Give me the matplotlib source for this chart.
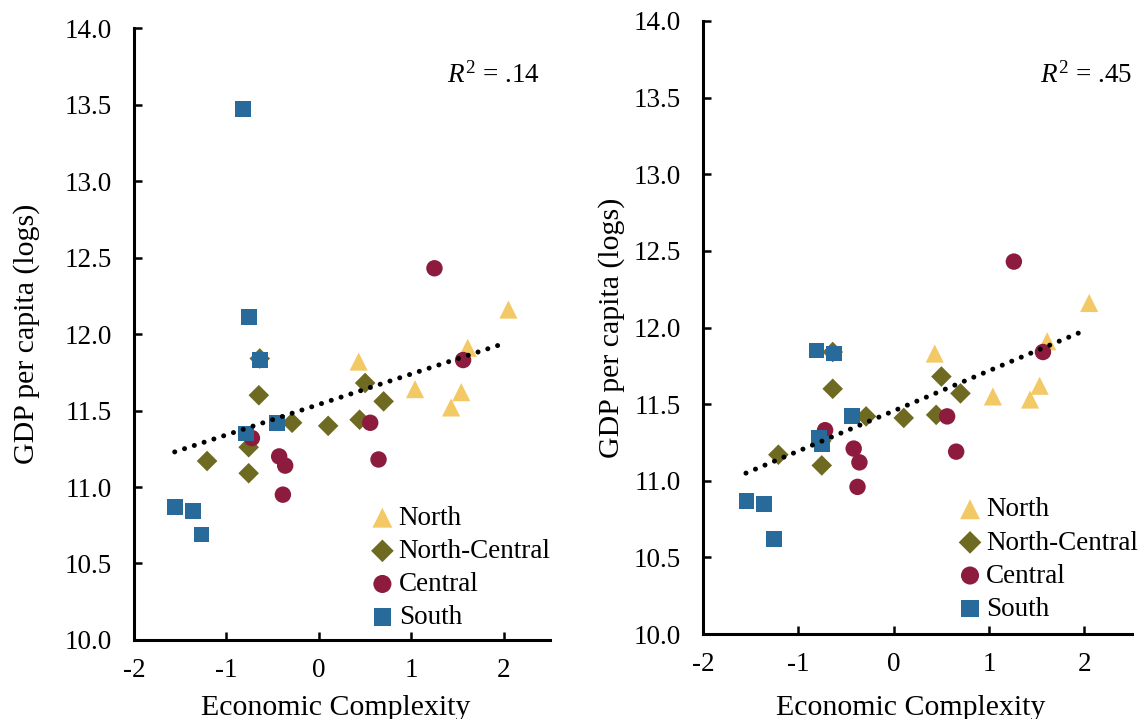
import matplotlib
matplotlib.use("Agg")
import matplotlib.pyplot as plt
from matplotlib.ticker import FormatStrFormatter
import numpy as np

plt.rcParams['font.family'] = ['Liberation Serif', 'DejaVu Serif']
plt.rcParams['mathtext.fontset'] = 'custom'
plt.rcParams['mathtext.rm'] = 'Liberation Serif'
plt.rcParams['mathtext.it'] = 'Liberation Serif:italic'
plt.rcParams['axes.unicode_minus'] = False

# --- datos (panel izquierdo) ---
north_x = [0.43, 1.04, 1.43, 1.54, 1.61, 2.05]
north_y = [11.82, 11.64, 11.52, 11.62, 11.91, 12.16]
ncentral_x = [-1.21, -0.76, -0.76, -0.65, -0.64, -0.29, 0.10, 0.44, 0.50, 0.70]
ncentral_y = [11.17, 11.26, 11.09, 11.60, 11.84, 11.42, 11.40, 11.44, 11.68, 11.56]
central_x = [-0.725, -0.43, -0.365, -0.39, 0.555, 0.645, 1.25, 1.56]
central_y = [11.32, 11.20, 11.14, 10.95, 11.42, 11.18, 12.43, 11.83]
south_x = [-1.555, -1.36, -1.27, -0.82, -0.79, -0.76, -0.635, -0.455]
south_y = [10.87, 10.845, 10.69, 13.47, 11.35, 12.11, 11.83, 11.42]

# --- datos (panel derecho) ---
north_x2 = [0.43, 1.04, 1.43, 1.53, 1.61, 2.05]
north_y2 = [11.83, 11.55, 11.53, 11.62, 11.91, 12.16]
ncentral_x2 = [-1.21, -0.76, -0.755, -0.64, -0.64, -0.29, 0.105, 0.445, 0.50, 0.70]
ncentral_y2 = [11.17, 11.26, 11.10, 11.60, 11.84, 11.42, 11.41, 11.43, 11.68, 11.57]
central_x2 = [-0.72, -0.42, -0.36, -0.38, 0.56, 0.655, 1.26, 1.565]
central_y2 = [11.33, 11.21, 11.12, 10.96, 11.42, 11.19, 12.43, 11.84]
south_x2 = [-1.545, -1.36, -1.26, -0.81, -0.78, -0.75, -0.63, -0.44]
south_y2 = [10.87, 10.85, 10.62, 11.85, 11.28, 11.24, 11.83, 11.42]

# lineas de tendencia: (intercepto, pendiente, x inicial, x final)
trend_left = (11.54, 0.199, -1.56, 1.955)
trend_right = (11.456, 0.262, -1.55, 1.96)
r2_labels = ['.14', '.45']

labels = ['North', 'North-Central', 'Central', 'South']
colors = ['#F2C964', '#6E6A22', '#8D1B3D', '#286B9B']
markers = ['^', 'D', 'o', 's']
sizes = [170, 110, 140, 130]

fig = plt.figure(figsize=(11.38, 7.19), dpi=100)
ax1 = fig.add_axes([0.1178, 0.1099, 0.3655, 0.851])
ax2 = fig.add_axes([0.6178, 0.1182, 0.377, 0.8526])

paneles = [
    (ax1, [(north_x, north_y), (ncentral_x, ncentral_y), (central_x, central_y), (south_x, south_y)],
     trend_left, r2_labels[0], (0.752, 0.923), (0.571, 0.016), -0.226, -0.09),
    (ax2, [(north_x2, north_y2), (ncentral_x2, ncentral_y2), (central_x2, central_y2), (south_x2, south_y2)],
     trend_right, r2_labels[1], (0.786, 0.912), (0.597, 0.02), -0.182, -0.099),
]

for ax, series, trend, r2, r2pos, legpos, ylab_x, xlab_y in paneles:
    for (xs, ys), lab, c, m, s in zip(series, labels, colors, markers, sizes):
        ax.scatter(xs, ys, s=s, marker=m, color=c, edgecolors='none', label=lab, zorder=2)

    b0, b1, xa, xb = trend
    xt = np.array([xa, xb])
    ax.plot(xt, b0 + b1 * xt, color='black', linewidth=3.6,
            linestyle=(0, (0.01, 2.05)), dash_capstyle='round', zorder=3)

    ax.set_xlim(-2, 2.5)
    ax.set_ylim(10, 14)
    ax.set_xticks([-2, -1, 0, 1, 2])
    ax.set_yticks(np.arange(10, 14.01, 0.5))
    ax.yaxis.set_major_formatter(FormatStrFormatter('%.1f'))

    for lado in ['top', 'right']:
        ax.spines[lado].set_visible(False)
    for lado in ['left', 'bottom']:
        ax.spines[lado].set_linewidth(2.2)

    ax.tick_params(axis='both', direction='in', length=6, width=1.8, labelsize=19.5)
    ax.tick_params(axis='x', pad=13)
    ax.tick_params(axis='y', pad=16)

    ax.set_xlabel('Economic Complexity', fontsize=21.5)
    ax.set_ylabel('GDP per capita (logs)', fontsize=21.5)
    ax.xaxis.set_label_coords(0.485, xlab_y)
    ax.yaxis.set_label_coords(ylab_x, 0.5)

    ax.text(r2pos[0], r2pos[1], r'$R^2$' + ' = ' + r2, transform=ax.transAxes,
            fontsize=19.5, ha='left', va='center')

    ax.legend(loc='lower left', bbox_to_anchor=legpos, frameon=False, fontsize=19.5,
              handlelength=0.8, handletextpad=0.2, labelspacing=0.3, markerscale=1.1,
              borderaxespad=0, borderpad=0, scatterpoints=1)

fig.savefig('out.png', dpi=100)
